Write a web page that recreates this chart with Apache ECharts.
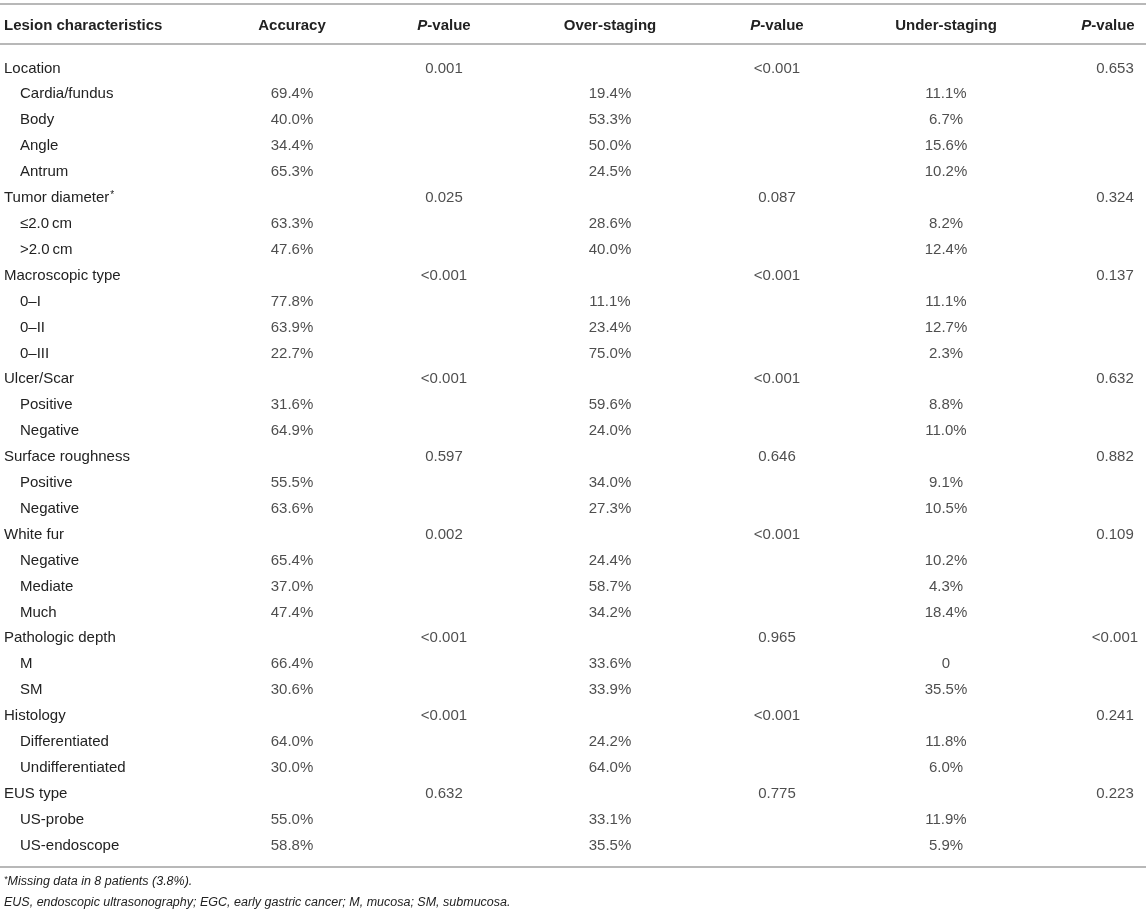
<!DOCTYPE html>
<html>
<head>
<meta charset="utf-8">
<title>Lesion characteristics</title>
<script src="https://cdn.jsdelivr.net/npm/echarts@6/dist/echarts.min.js"></script>
<style>
	html, body { margin: 0; padding: 0; background: #ffffff; }
	#main { width: 1146px; height: 916px; }
</style>
</head>
<body>
<div id="main"></div>
<script>
//行标签
var rowLabels = [
	"Location", "Cardia/fundus", "Body", "Angle", "Antrum",
	"Tumor diameter*", "\u22642.0\u2009cm", ">2.0\u2009cm",
	"Macroscopic type", "0\u2013I", "0\u2013II", "0\u2013III",
	"Ulcer/Scar", "Positive", "Negative",
	"Surface roughness", "Positive", "Negative",
	"White fur", "Negative", "Mediate", "Much",
	"Pathologic depth", "M", "SM",
	"Histology", "Differentiated", "Undifferentiated",
	"EUS type", "US-probe", "US-endoscope"
];
//0=分组行, 1=子项
var rowLevel = [0, 1, 1, 1, 1, 0, 1, 1, 0, 1, 1, 1, 0, 1, 1, 0, 1, 1, 0, 1, 1, 1, 0, 1, 1, 0, 1, 1, 0, 1, 1];
//百分比
var accuracy = [null, 69.4, 40.0, 34.4, 65.3, null, 63.3, 47.6, null, 77.8, 63.9, 22.7, null, 31.6, 64.9, null, 55.5, 63.6, null, 65.4, 37.0, 47.4, null, 66.4, 30.6, null, 64.0, 30.0, null, 55.0, 58.8];
var overStaging = [null, 19.4, 53.3, 50.0, 24.5, null, 28.6, 40.0, null, 11.1, 23.4, 75.0, null, 59.6, 24.0, null, 34.0, 27.3, null, 24.4, 58.7, 34.2, null, 33.6, 33.9, null, 24.2, 64.0, null, 33.1, 35.5];
var underStaging = [null, 11.1, 6.7, 15.6, 10.2, null, 8.2, 12.4, null, 11.1, 12.7, 2.3, null, 8.8, 11.0, null, 9.1, 10.5, null, 10.2, 4.3, 18.4, null, 0, 35.5, null, 11.8, 6.0, null, 11.9, 5.9];
//每个分组的P值
var pAccuracy = ["0.001", "0.025", "<0.001", "<0.001", "0.597", "0.002", "<0.001", "<0.001", "0.632"];
var pOver = ["<0.001", "0.087", "<0.001", "<0.001", "0.646", "<0.001", "0.965", "<0.001", "0.775"];
var pUnder = ["0.653", "0.324", "0.137", "0.632", "0.882", "0.109", "<0.001", "0.241", "0.223"];
//表头
var headers = ["Accuracy", "P-value", "Over-staging", "P-value", "Under-staging", "P-value"];
var footnotes = ["*Missing data in 8 patients (3.8%).", "EUS, endoscopic ultrasonography; EGC, early gastric cancer; M, mucosa; SM, submucosa."];

(function () {
	var font = "Liberation Sans";
	var textColor = "#222222";
	var lineColor = "#b8b8b8";
	var rowTop = 55.5;
	var rowHeight = 803;
	//各列中心位置
	var colCenters = [292, 444, 610, 777, 946, 1115];
	var colWidth = 40;

	//百分比格式
	function pct(v) {
		if (v === null) return "";
		return v === 0 ? "0" : v.toFixed(1) + "%";
	}

	//把分组P值展开到行
	function spreadP(list) {
		var out = [];
		var k = 0;
		for (var i = 0; i < rowLevel.length; i++) {
			if (rowLevel[i] === 0) {
				out.push(list[k]);
				k++;
			} else {
				out.push("");
			}
		}
		return out;
	}

	var columns = [
		accuracy.map(pct),
		spreadP(pAccuracy),
		overStaging.map(pct),
		spreadP(pOver),
		underStaging.map(pct),
		spreadP(pUnder)
	];
	var rowIds = rowLabels.map(function (d, i) { return String(i); });

	var grid = [{ left: 4, top: rowTop, height: rowHeight, width: 200 }];
	var xAxis = [{ gridIndex: 0, type: "value", show: false, min: 0, max: 1 }];
	var yAxis = [{
		gridIndex: 0,
		type: "category",
		data: rowIds,
		inverse: true,
		axisLine: { show: false },
		axisTick: { show: false },
		axisLabel: {
			interval: 0,
			margin: 0,
			align: "left",
			fontFamily: font,
			fontSize: 15,
			color: textColor,
			formatter: function (v, idx) {
				var name = rowLabels[idx];
				var key = rowLevel[idx] === 0 ? "g" : "s";
				if (name.charAt(name.length - 1) === "*") {
					return "{" + key + "|" + name.slice(0, -1) + "}{sup|*}";
				}
				return "{" + key + "|" + name + "}";
			},
			rich: {
				g: { fontFamily: font, fontSize: 15, color: textColor },
				s: { fontFamily: font, fontSize: 15, color: textColor, padding: [0, 0, 0, 16] },
				sup: { fontFamily: font, fontSize: 10, color: textColor, padding: [0, 0, 6, 1] }
			}
		}
	}];
	var series = [];

	for (var c = 0; c < headers.length; c++) {
		var gi = c + 1;
		//最后一列表头贴近右边
		var lastCol = c === headers.length - 1;
		grid.push({ left: colCenters[c] - colWidth / 2, width: colWidth, top: rowTop, height: rowHeight });
		xAxis.push({
			gridIndex: gi,
			type: "category",
			position: "top",
			data: [headers[c]],
			axisLine: { show: false },
			axisTick: { show: false },
			axisLabel: {
				interval: 0,
				margin: 30,
				verticalAlign: "middle",
				padding: lastCol ? [0, 14, 0, 0] : 0,
				fontFamily: font,
				fontSize: 15,
				fontWeight: "bold",
				color: textColor,
				formatter: function (v) {
					if (v === "P-value") return "{i|P}{b|-value}";
					return "{b|" + v + "}";
				},
				rich: {
					i: { fontFamily: font, fontSize: 15, fontWeight: "bold", fontStyle: "italic", color: textColor },
					b: { fontFamily: font, fontSize: 15, fontWeight: "bold", color: textColor }
				}
			}
		});
		yAxis.push({ gridIndex: gi, type: "category", data: rowIds, inverse: true, show: false });

		var cells = [];
		for (var r = 0; r < columns[c].length; r++) {
			if (columns[c][r] !== "") {
				cells.push({ value: [0, r], name: columns[c][r] });
			}
		}
		series.push({
			type: "scatter",
			xAxisIndex: gi,
			yAxisIndex: gi,
			symbolSize: 1,
			itemStyle: { color: "rgba(0,0,0,0)" },
			silent: true,
			label: {
				show: true,
				position: "inside",
				fontFamily: font,
				fontSize: 15,
				color: textColor,
				formatter: function (p) { return p.name; }
			},
			data: cells
		});
	}

	var chart = echarts.init(document.getElementById("main"));
	chart.setOption({
		backgroundColor: "#ffffff",
		animation: false,
		grid: grid,
		xAxis: xAxis,
		yAxis: yAxis,
		series: series,
		graphic: [
			{ type: "line", shape: { x1: 0, y1: 4, x2: 1146, y2: 4 }, style: { stroke: lineColor, lineWidth: 2 } },
			{ type: "line", shape: { x1: 0, y1: 44, x2: 1146, y2: 44 }, style: { stroke: lineColor, lineWidth: 2 } },
			{ type: "line", shape: { x1: 0, y1: 867, x2: 1146, y2: 867 }, style: { stroke: lineColor, lineWidth: 2 } },
			{
				type: "text", left: 4, top: 18,
				style: { text: "Lesion characteristics", fontFamily: font, fontSize: 15, fontWeight: "bold", fill: textColor }
			},
			{
				type: "text", left: 4, top: 875,
				style: {
					text: "{sup|*}{t|" + footnotes[0].slice(1) + "}",
					rich: {
						sup: { fontFamily: font, fontSize: 9, fontStyle: "italic", fill: textColor, padding: [0, 0, 5, 0] },
						t: { fontFamily: font, fontSize: 12.5, fontStyle: "italic", fill: textColor }
					}
				}
			},
			{
				type: "text", left: 4, top: 896,
				style: { text: footnotes[1], fontFamily: font, fontSize: 12.5, fontStyle: "italic", fill: textColor }
			}
		]
	});
})();
</script>
</body>
</html>
